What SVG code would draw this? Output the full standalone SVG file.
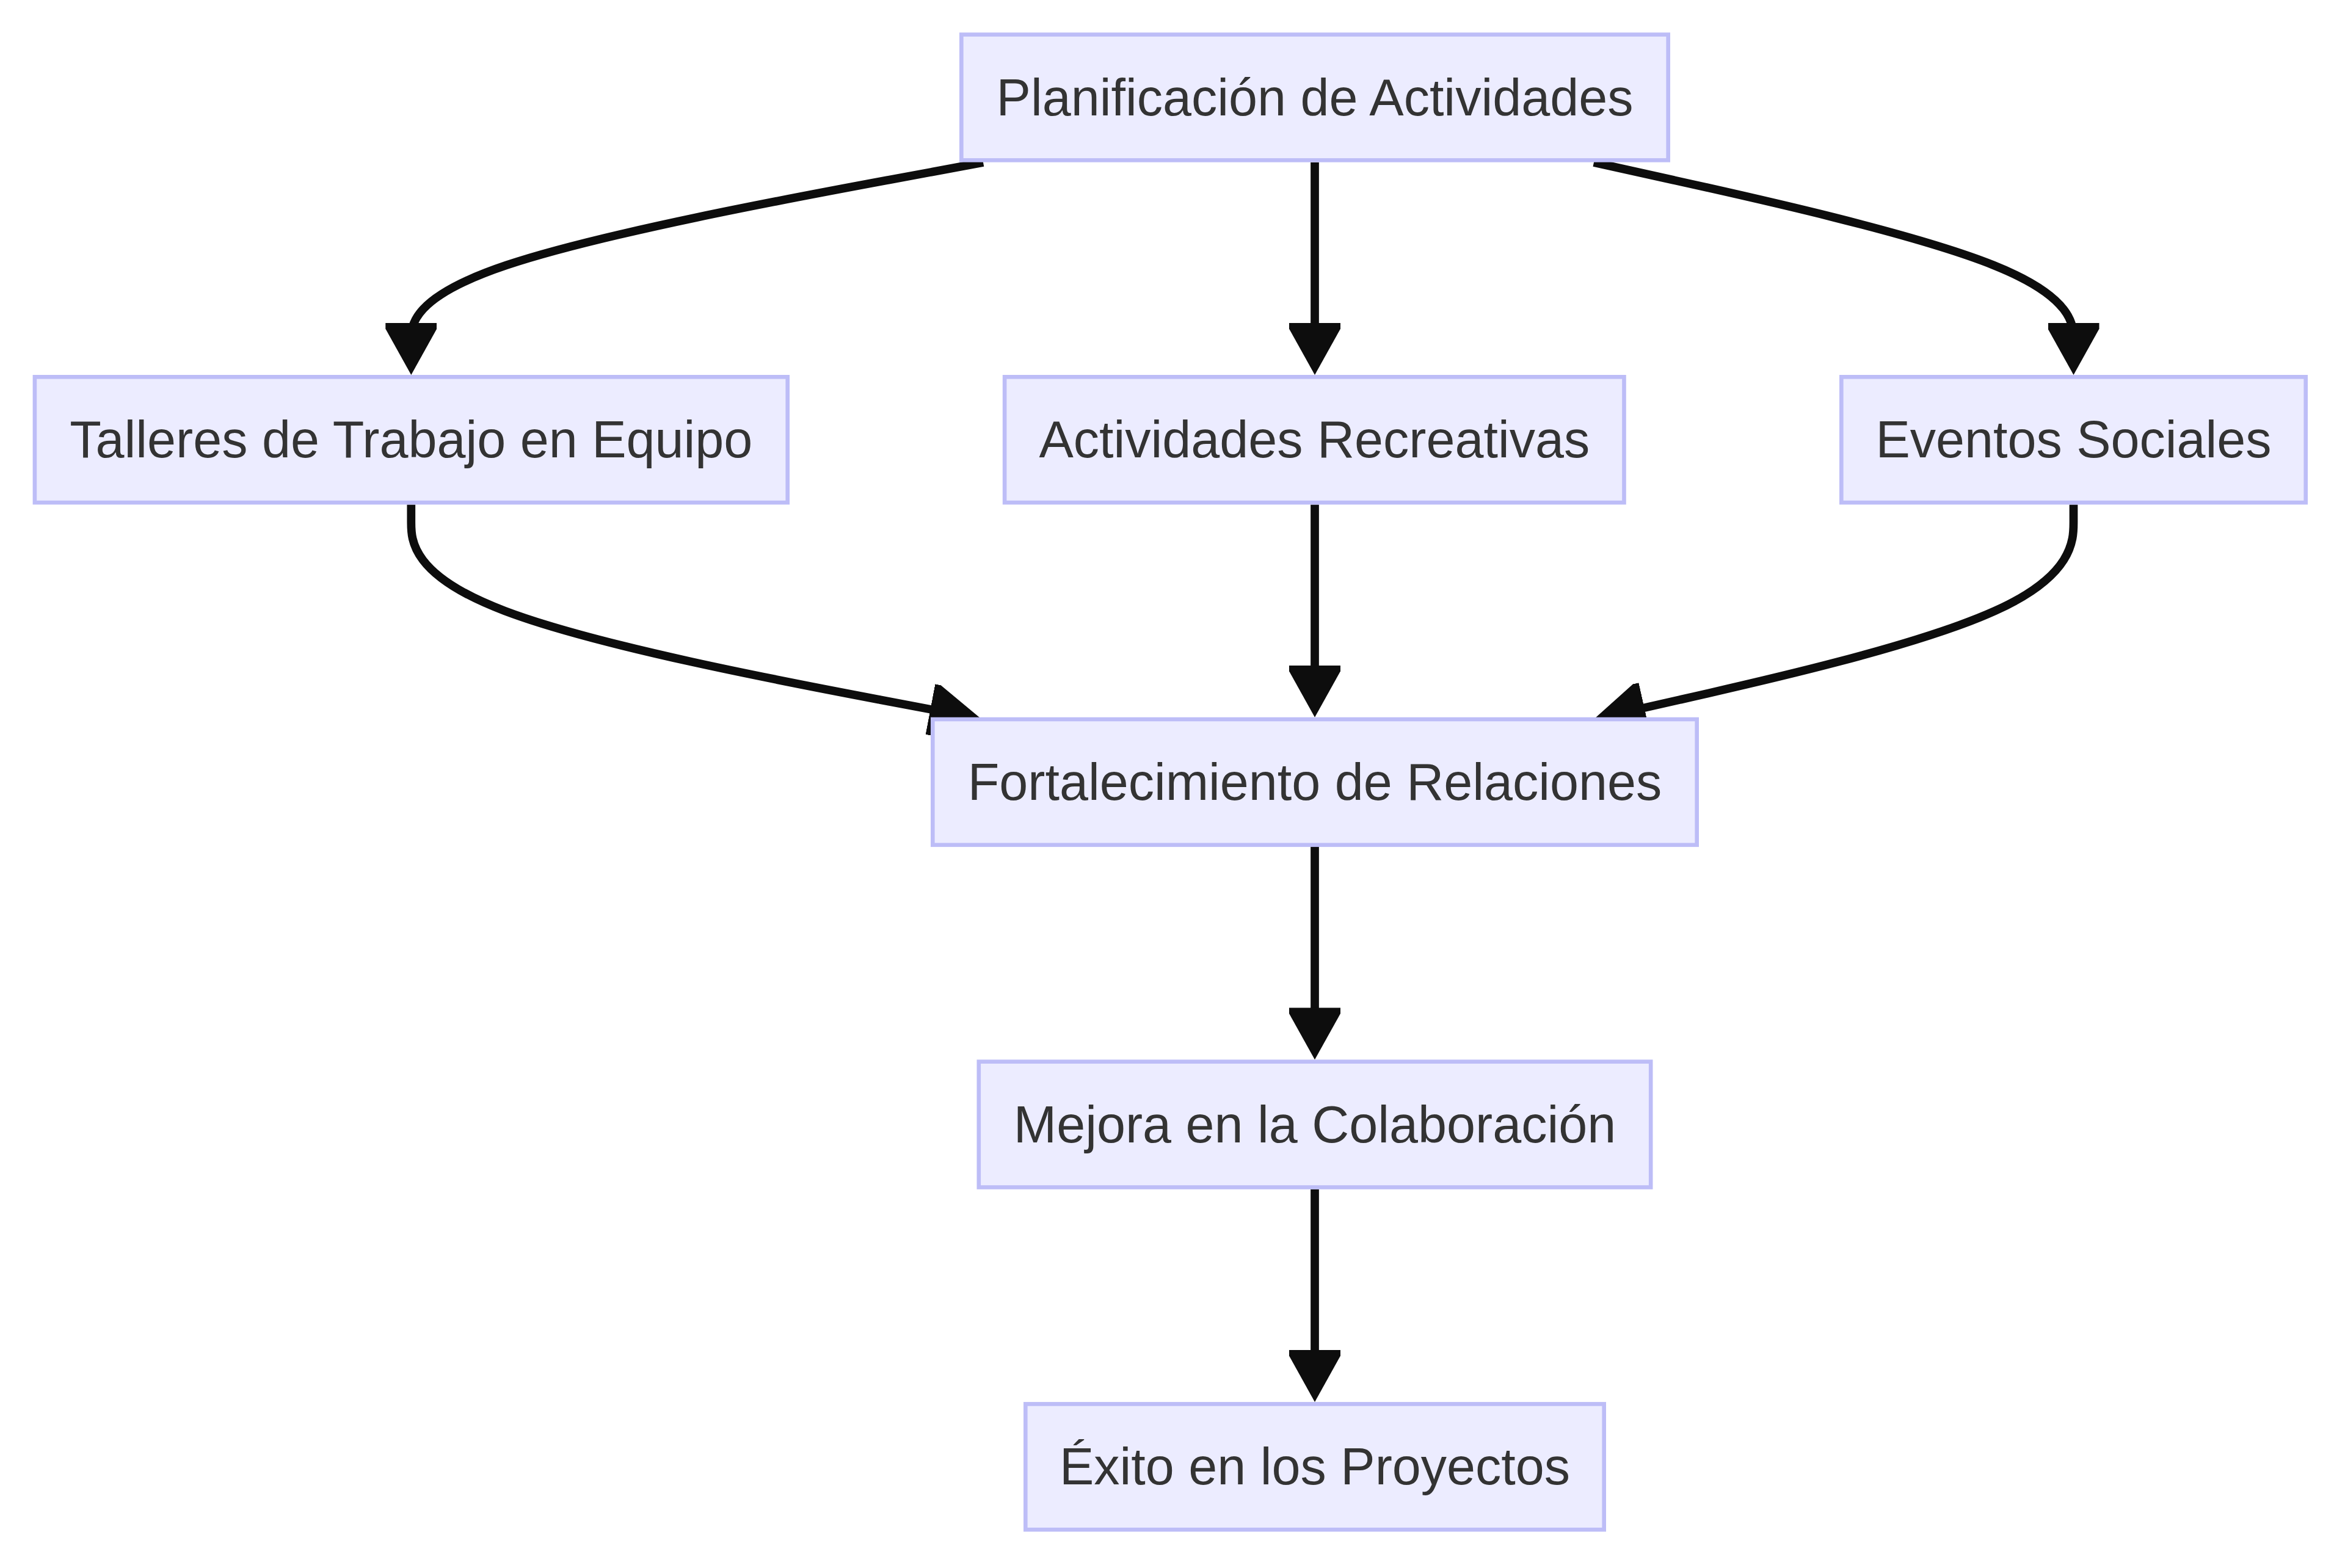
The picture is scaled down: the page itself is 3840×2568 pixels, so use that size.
<svg xmlns="http://www.w3.org/2000/svg" width="3840" height="2568" viewBox="0 0 3840 2568">
<defs>
<style>
.node rect{fill:#ECECFF;stroke:#bdbdf7;stroke-width:6.6}
.node text{font-family:"Liberation Sans",Arial,Helvetica,sans-serif;font-size:84.5px;fill:#333333;text-anchor:middle}
.edge{fill:none;stroke:#0d0d0d;stroke-width:13.7;marker-end:url(#arrow)}
</style>
<marker id="arrow" markerUnits="userSpaceOnUse" viewBox="0 0 85 84" markerWidth="85" markerHeight="84" refX="61" refY="42" orient="auto">
<path d="M0,0 L9.5,0 L85,42 L9.5,84 L0,84 Z" fill="#0d0d0d"/>
</marker>
</defs>
<rect x="0" y="0" width="3840" height="2568" fill="#ffffff"/>
<g id="edges">
<path class="edge" d="M1610,266 L1453.9,295 C1297.8,324 985.5,382 829.4,434.3 C673.3,486.7 673.3,533.3 673.3,556.7 L673.3,590"/>
<path class="edge" d="M2153,266 L2153,590"/>
<path class="edge" d="M2610,266 L2740.9,295 C2871.8,324 3133.7,382 3264.6,434.3 C3395.5,486.7 3395.5,533.3 3395.5,556.7 L3395.5,590"/>
<path class="edge" d="M673.3,826.4 L673.3,855.4 C673.3,884.4 673.3,942.5 826.8,1000.6 C980.2,1058.7 1287.1,1116.8 1440.6,1145.9 L1583.4,1173"/>
<path class="edge" d="M2153,826.4 L2153,1150.7"/>
<path class="edge" d="M3395.5,826.4 L3395.5,855.4 C3395.5,884.4 3395.5,942.5 3266.7,1000.6 C3137.8,1058.7 2880.2,1116.8 2751.3,1145.9 L2633.2,1172.6"/>
<path class="edge" d="M2153,1387.1 L2153,1711.4"/>
<path class="edge" d="M2153,1947.8 L2153,2272.1"/>
</g>
<g id="node-planificacion" class="node">
<rect x="1574.3" y="56.6" width="1157.4" height="205.8"/>
<text x="2153" y="188.5">Planificación de Actividades</text>
</g>
<g id="node-talleres" class="node">
<rect x="56.9" y="617.3" width="1232.8" height="205.8"/>
<text x="673.3" y="749.2">Talleres de Trabajo en Equipo</text>
</g>
<g id="node-recreativas" class="node">
<rect x="1645.1" y="617.3" width="1014.4" height="205.8"/>
<text x="2152.3" y="749.2">Actividades Recreativas</text>
</g>
<g id="node-eventos" class="node">
<rect x="3015.3" y="617.3" width="760.4" height="205.8"/>
<text x="3395.5" y="749.2">Eventos Sociales</text>
</g>
<g id="node-fortalecimiento" class="node">
<rect x="1527.3" y="1178" width="1251.4" height="205.8"/>
<text x="2153" y="1309.9">Fortalecimiento de Relaciones</text>
</g>
<g id="node-mejora" class="node">
<rect x="1602.8" y="1738.7" width="1100.4" height="205.8"/>
<text x="2153" y="1870.6">Mejora en la Colaboración</text>
</g>
<g id="node-exito" class="node">
<rect x="1679.3" y="2299.4" width="947.4" height="205.8"/>
<text x="2153" y="2431.3">Éxito en los Proyectos</text>
</g>
</svg>
